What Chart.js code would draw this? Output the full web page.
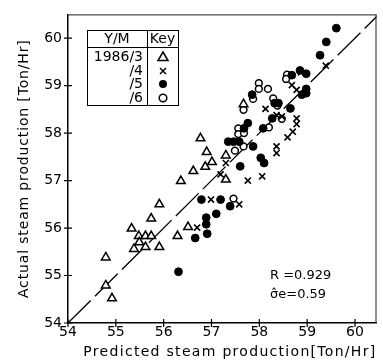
<!DOCTYPE html>
<html>
<head>
<meta charset="utf-8">
<script src="https://cdn.jsdelivr.net/npm/chart.js@4/dist/chart.umd.min.js"></script>
<style>
html,body{margin:0;padding:0;background:#fff;}
canvas{display:block;}
</style>
</head>
<body>
<canvas id="c" width="383" height="363"></canvas>
<script>
// ---- data ----
const TICKS = [54, 55, 56, 57, 58, 59, 60];
const DIAG_X = [54, 60.5];
const DIAG_Y = [54, 60.5];

const MAR_X = [54.79,54.79,54.92,55.33,55.38,55.48,55.49,55.62,55.62,55.74,55.74,55.91,55.91,56.29,56.36,56.51,56.62,56.77,56.87,56.90,57.01,57.30,57.30,57.67];
const MAR_Y = [55.38,54.79,54.52,55.99,55.56,55.83,55.70,55.83,55.60,55.83,56.20,56.50,55.60,55.83,56.99,56.02,57.20,57.89,57.29,57.60,57.39,57.53,57.02,58.61];

const APR_X = [59.39,58.87,58.68,58.78,58.13,58.36,58.47,58.78,58.78,58.70,58.59,58.36,58.36,57.76,58.06,57.19,57.30,56.99,57.58,56.70];
const APR_Y = [59.42,59.28,59.01,58.91,58.51,58.38,58.35,58.31,58.19,58.03,57.91,57.72,57.58,57.00,57.09,57.13,57.37,56.60,56.50,56.01];

const MAY_X = [59.61,59.40,59.27,58.68,58.85,58.98,58.98,58.98,58.89,58.65,58.40,58.32,58.27,58.08,57.85,57.76,57.68,57.35,57.46,57.58,57.87,58.03,58.10,57.60,56.79,57.19,57.10,57.39,56.89,56.89,56.91,56.66,56.31];
const MAY_Y = [60.21,59.92,59.64,59.22,59.32,59.25,58.93,58.84,58.81,58.52,58.63,58.63,58.31,58.10,58.81,58.21,58.10,57.82,57.82,57.82,57.72,57.48,57.37,57.30,56.60,56.60,56.30,56.46,56.22,56.08,55.88,55.79,55.08];

const JUN_X = [57.99,57.99,57.87,58.18,58.58,58.56,58.29,58.38,57.67,57.56,57.56,57.68,57.67,57.49,57.46,58.20,58.47];
const JUN_Y = [59.05,58.93,58.72,58.93,59.23,59.14,58.73,58.58,58.49,58.10,57.98,58.00,57.72,57.63,56.62,58.12,58.30];

const KEY_LABELS = ['1986/3', '/4', '/5', '/6'];
const STATS = ['R =0.929', 'σ̂e=0.59'];

const pts = (xs, ys) => xs.map((x, i) => ({x, y: ys[i]}));
const FONT = 'DejaVu Sans';

// ---- plugin: frame, crossing ticks, key table, stats ----
const decor = {
  id: 'decor',
  afterDatasetsDraw(chart) {
    const {ctx, chartArea: a, scales: {x, y}} = chart;
    ctx.save();
    // top & right frame
    ctx.strokeStyle = '#222';
    ctx.lineWidth = 1;
    ctx.beginPath();
    ctx.moveTo(a.left, a.top + 0.5); ctx.lineTo(a.right, a.top + 0.5);
    ctx.moveTo(a.right - 0.5, a.top); ctx.lineTo(a.right - 0.5, a.bottom);
    ctx.stroke();
    // ticks crossing the axes
    ctx.strokeStyle = '#000';
    ctx.lineWidth = 1.2;
    ctx.beginPath();
    TICKS.forEach(v => {
      const px = x.getPixelForValue(v);
      ctx.moveTo(px, a.bottom - 4); ctx.lineTo(px, a.bottom + 4);
      const py = y.getPixelForValue(v);
      ctx.moveTo(a.left - 4, py); ctx.lineTo(a.left + 4, py);
    });
    ctx.stroke();

    // key table
    const L = 87, T = 30, R = 178, B = 105, H = 47, C = 147;
    ctx.fillStyle = '#fff';
    ctx.fillRect(L, T, R - L, B - T);
    ctx.strokeStyle = '#000';
    ctx.lineWidth = 1;
    ctx.strokeRect(L + 0.5, T + 0.5, R - L, B - T);
    ctx.beginPath();
    ctx.moveTo(L, H + 0.5); ctx.lineTo(R, H + 0.5);
    ctx.moveTo(C + 0.5, T); ctx.lineTo(C + 0.5, B);
    ctx.stroke();
    ctx.fillStyle = '#000';
    ctx.font = '14px "' + FONT + '"';
    ctx.textBaseline = 'middle';
    ctx.textAlign = 'center';
    ctx.fillText('Y/M', (L + C) / 2, 39);
    ctx.fillText('Key', (C + R) / 2, 39);
    ctx.textAlign = 'right';
    const rowY = [57, 71, 84, 98];
    KEY_LABELS.forEach((t, i) => ctx.fillText(t, C - 4, rowY[i]));
    const sx = 163;
    ctx.lineWidth = 1.5;
    // triangle
    ctx.beginPath();
    ctx.moveTo(sx, rowY[0] - 5); ctx.lineTo(sx + 5, rowY[0] + 3.5); ctx.lineTo(sx - 5, rowY[0] + 3.5); ctx.closePath();
    ctx.stroke();
    // x
    ctx.beginPath();
    ctx.moveTo(sx - 3, rowY[1] - 3); ctx.lineTo(sx + 3, rowY[1] + 3);
    ctx.moveTo(sx + 3, rowY[1] - 3); ctx.lineTo(sx - 3, rowY[1] + 3);
    ctx.stroke();
    // filled circle
    ctx.beginPath(); ctx.arc(sx, rowY[2], 4, 0, Math.PI * 2); ctx.fill();
    // open circle
    ctx.beginPath(); ctx.arc(sx, rowY[3], 3.8, 0, Math.PI * 2); ctx.stroke();

    // stats text
    ctx.font = '13px "' + FONT + '"';
    ctx.textAlign = 'left';
    ctx.fillText(STATS[0], 270, 276);
    ctx.fillText(STATS[1], 270, 295);
    ctx.restore();
  }
};

function spacedTitle(scale, spacing) {
  const proto = Object.getPrototypeOf(scale);
  scale.drawTitle = function () {
    this.ctx.save();
    this.ctx.letterSpacing = spacing;
    proto.drawTitle.call(this);
    this.ctx.restore();
  };
}

const axisCommon = (title, pad, align) => ({
  type: 'linear',
  min: 54,
  afterBuildTicks: s => { s.ticks = TICKS.map(v => ({value: v})); },
  grid: {display: false, drawTicks: false},
  border: {display: true, color: '#000', width: 1.5},
  ticks: {color: '#000', font: {family: FONT, size: 14}},
  title: {display: true, text: title, color: '#000', align, font: {family: FONT, size: 14}, padding: pad}
});

const xAxis = axisCommon('Predicted steam production[Ton/Hr]', {top: 0, bottom: 2}, 'end');
xAxis.max = 60.45;
xAxis.ticks.padding = 1;
xAxis.afterFit = s => { s.height = 40; spacedTitle(s, '1.3px'); };

const yAxis = axisCommon('Actual steam production [Ton/Hr]', {top: 16, bottom: 0}, 'center');
yAxis.max = 60.5;
yAxis.ticks.padding = 6;
yAxis.afterFit = s => { s.width = 68; spacedTitle(s, '0.85px'); };

new Chart(document.getElementById('c'), {
  type: 'scatter',
  data: {
    datasets: [
      {type: 'line', data: pts(DIAG_X, DIAG_Y), borderColor: '#000', borderWidth: 1.3, borderDash: [32, 6], pointRadius: 0, fill: false, order: 5},
      {data: pts(MAR_X, MAR_Y), pointStyle: 'triangle', pointRadius: 5, pointBorderWidth: 1.5, pointBorderColor: '#000', pointBackgroundColor: '#fff', order: 1},
      {data: pts(APR_X, APR_Y), pointStyle: 'crossRot', pointRadius: 4.3, pointBorderWidth: 1.6, pointBorderColor: '#000', pointBackgroundColor: '#000', order: 2},
      {data: pts(MAY_X, MAY_Y), pointStyle: 'circle', pointRadius: 3.9, pointBorderWidth: 1, pointBorderColor: '#000', pointBackgroundColor: '#000', order: 3},
      {data: pts(JUN_X, JUN_Y), pointStyle: 'circle', pointRadius: 3.4, pointBorderWidth: 1.5, pointBorderColor: '#000', pointBackgroundColor: '#fff', order: 4}
    ]
  },
  options: {
    responsive: false,
    devicePixelRatio: 1,
    animation: false,
    layout: {padding: {top: 12, right: 2, left: 0, bottom: 0}},
    plugins: {legend: {display: false}, tooltip: {enabled: false}},
    scales: {x: xAxis, y: yAxis}
  },
  plugins: [decor]
});
</script>
</body>
</html>
